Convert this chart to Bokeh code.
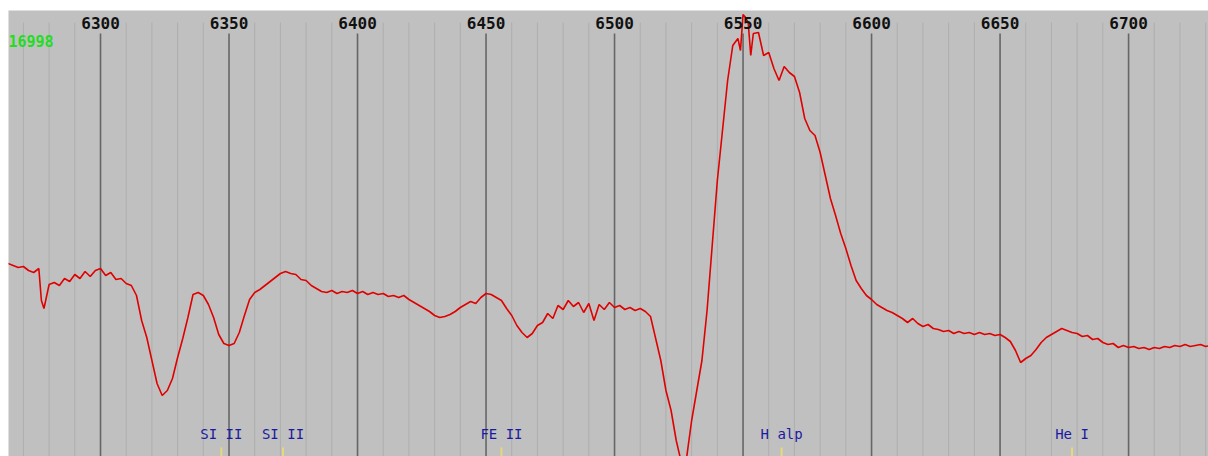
from bokeh.plotting import figure
from bokeh.models import Range1d
from bokeh.embed import file_html
from bokeh.resources import INLINE
from bokeh.core.properties import value

# ---- data ----
wavelength = [6264, 6266, 6268, 6270, 6272, 6274, 6276, 6277, 6278, 6280, 6282, 6284, 6286, 6288, 6290,
              6292, 6294, 6296, 6298, 6300, 6302, 6304, 6306, 6308, 6310, 6312, 6314, 6316, 6318, 6320,
              6322, 6324, 6326, 6328, 6330, 6332, 6334, 6336, 6338, 6340, 6342, 6344, 6346, 6348, 6350,
              6352, 6354, 6356, 6358, 6360, 6362, 6364, 6366, 6368, 6370, 6372, 6374, 6376, 6378, 6380,
              6382, 6384, 6386, 6388, 6390, 6392, 6394, 6396, 6398, 6400, 6402, 6404, 6406, 6408, 6410,
              6412, 6414, 6416, 6418, 6420, 6422, 6424, 6426, 6428, 6430, 6432, 6434, 6436, 6438, 6440,
              6442, 6444, 6446, 6448, 6450, 6452, 6454, 6456, 6458, 6460, 6462, 6464, 6466, 6468, 6470,
              6472, 6474, 6476, 6478, 6480, 6482, 6484, 6486, 6488, 6490, 6492, 6494, 6496, 6498, 6500,
              6502, 6504, 6506, 6508, 6510, 6512, 6514, 6516, 6518, 6520, 6522, 6524, 6526, 6528, 6530,
              6532, 6534, 6536, 6538, 6540, 6542, 6544, 6546, 6548, 6549, 6550, 6551, 6552, 6553, 6554,
              6556, 6558, 6560, 6562, 6564, 6566, 6568, 6570, 6572, 6574, 6576, 6578, 6580, 6582, 6584,
              6586, 6588, 6590, 6592, 6594, 6596, 6598, 6600, 6602, 6604, 6606, 6608, 6610, 6612, 6614,
              6616, 6618, 6620, 6622, 6624, 6626, 6628, 6630, 6632, 6634, 6636, 6638, 6640, 6642, 6644,
              6646, 6648, 6650, 6652, 6654, 6656, 6658, 6660, 6662, 6664, 6666, 6668, 6670, 6672, 6674,
              6676, 6678, 6680, 6682, 6684, 6686, 6688, 6690, 6692, 6694, 6696, 6698, 6700, 6702, 6704,
              6706, 6708, 6710, 6712, 6714, 6716, 6718, 6720, 6722, 6724, 6726, 6728, 6730, 6732]
flux = [193, 191, 189, 190, 186, 184, 188, 156, 148, 172, 174, 171, 178, 175, 182,
        178, 185, 180, 186, 188, 181, 184, 177, 178, 173, 171, 161, 136, 119, 96,
        73, 61, 66, 78, 99, 118, 139, 162, 164, 161, 152, 139, 122, 113, 111,
        113, 124, 141, 157, 164, 167, 171, 175, 179, 183, 185, 183, 182, 177, 176,
        171, 168, 165, 164, 166, 163, 165, 164, 166, 163, 165, 162, 164, 162, 163,
        160, 161, 159, 161, 157, 154, 151, 148, 145, 141, 139, 140, 142, 145, 149,
        152, 155, 153, 159, 163, 162, 159, 156, 148, 141, 131, 124, 119, 123, 131,
        134, 143, 138, 151, 147, 156, 150, 154, 144, 153, 136, 152, 147, 154, 149,
        151, 147, 149, 146, 148, 145, 140, 118, 96, 66, 46, 16, -6, -2, 36,
        66, 96, 146, 211, 276, 326, 376, 411, 418, 406, 442, 439, 434, 401, 423,
        424, 401, 404, 388, 376, 390, 384, 380, 364, 338, 326, 321, 304, 281, 258,
        241, 223, 208, 191, 176, 168, 161, 157, 152, 149, 146, 144, 141, 138, 134,
        138, 133, 130, 132, 128, 127, 125, 126, 123, 125, 123, 124, 122, 124, 122,
        123, 121, 122, 119, 115, 106, 94, 98, 101, 107, 114, 119, 122, 125, 128,
        126, 124, 123, 120, 121, 117, 118, 114, 112, 113, 109, 111, 109, 110, 108,
        109, 107, 109, 108, 110, 109, 111, 110, 112, 110, 111, 112, 110, 111]

major_ticks = [6300, 6350, 6400, 6450, 6500, 6550, 6600, 6650, 6700]
tick_labels = ["6300", "6350", "6400", "6450", "6500", "6550", "6600", "6650", "6700"]
minor_ticks = [6270, 6280, 6290, 6310, 6320, 6330, 6340, 6360, 6370, 6380, 6390, 6410, 6420,
               6430, 6440, 6460, 6470, 6480, 6490, 6510, 6520, 6530, 6540, 6560, 6570, 6580,
               6590, 6610, 6620, 6630, 6640, 6660, 6670, 6680, 6690, 6710, 6720, 6730]

line_names = ["SI II", "SI II", "FE II", "H alp", "He I"]
line_waves = [6347, 6371, 6456, 6565, 6678]
max_label = "16998"

# ---- figure ----
YTOP = 446
p = figure(width=1208, height=456, output_backend="svg", toolbar_location=None,
           x_range=Range1d(6264.2, 6731.1), y_range=Range1d(0, YTOP),
           x_axis_location=None, y_axis_location=None,
           background_fill_color="#c0c0c0", border_fill_color="white",
           min_border=0, min_border_top=10, min_border_left=8, outline_line_color=None)
p.grid.grid_line_color = None

# minor grid lines
p.segment(x0=minor_ticks, y0=[0] * len(minor_ticks), x1=minor_ticks, y1=[YTOP - 12] * len(minor_ticks),
          line_color="#aeaeae", line_width=1)
# major grid lines
p.segment(x0=major_ticks, y0=[0] * len(major_ticks), x1=major_ticks, y1=[YTOP - 23] * len(major_ticks),
          line_color="#666666", line_width=1.6)

# spectrum
p.line(wavelength, flux, line_color="#e00000", line_width=1.6)

# top tick labels
p.text(x=major_ticks, y=[YTOP - 12] * len(major_ticks), text=tick_labels,
       text_font=value("DejaVu Sans Mono"), text_font_style="bold", text_font_size="16px",
       text_color="#111111", text_align="center", text_baseline="middle")

# max count label
p.text(x=[6264.2], y=[YTOP - 30], text=[max_label], x_offset=0,
       text_font=value("DejaVu Sans Mono"), text_font_style="bold", text_font_size="15px",
       text_color="#22dd22", text_align="left", text_baseline="middle")

# line identifications
p.segment(x0=line_waves, y0=[0] * len(line_waves), x1=line_waves, y1=[9] * len(line_waves),
          line_color="#e6d97a", line_width=2)
p.text(x=line_waves, y=[23] * len(line_waves), text=line_names,
       text_font=value("DejaVu Sans Mono"), text_font_size="14px",
       text_color="#1a1aa0", text_align="center", text_baseline="middle")

open("out.html", "w").write(file_html(p, INLINE))
